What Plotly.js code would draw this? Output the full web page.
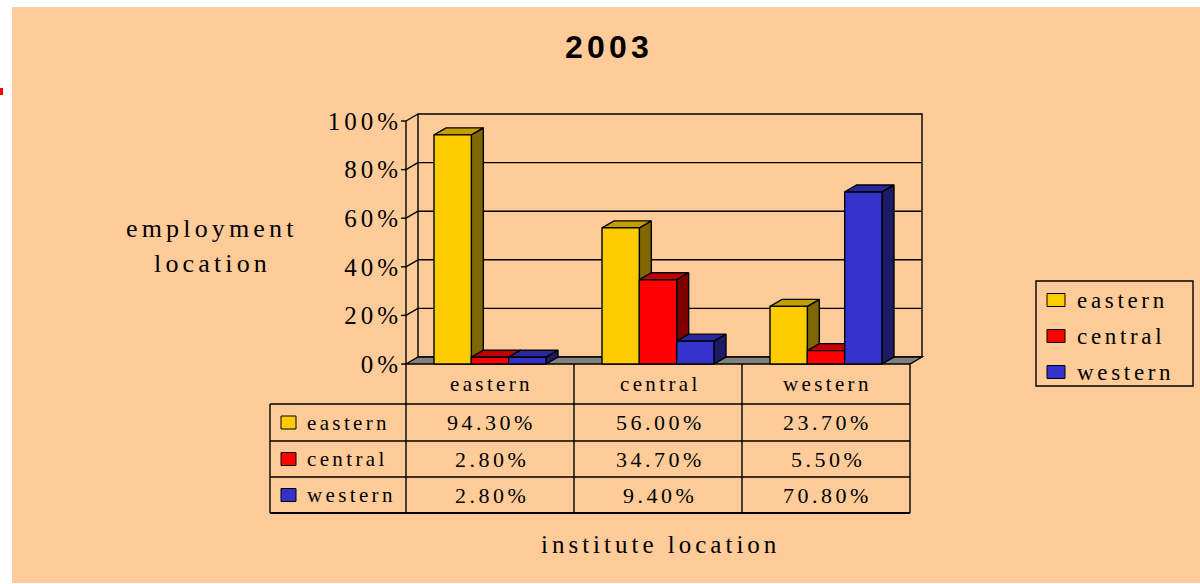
<!DOCTYPE html>
<html><head><meta charset="utf-8">
<script src="https://cdn.plot.ly/plotly-3.0.1.min.js"></script>
<style>
html,body{margin:0;padding:0;background:#fff;}
#chart{width:1200px;height:584px;}
text{letter-spacing:0.16em;}
.gtitle{letter-spacing:0.13em;}
</style></head><body><div id="chart"></div>
<script>
// ---- data ----
const categories = ['eastern', 'central', 'western'];
const seriesNames = ['eastern', 'central', 'western'];
const easternValues = [0.943, 0.560, 0.237];
const centralValues = [0.028, 0.347, 0.055];
const westernValues = [0.028, 0.094, 0.708];
const yTickValues = [0, 0.2, 0.4, 0.6, 0.8, 1.0];
const yTickLabels = ['0%', '20%', '40%', '60%', '80%', '100%'];
const titleText = '2003';
const yTitleLines = ['employment', 'location'];
const xTitleText = 'institute location';

// ---- styles ----
const frontColors = ['#FFCC00', '#FF0000', '#3333CC'];
const topColors = ['#C49E00', '#C00000', '#28289E'];
const sideColors = ['#806600', '#800000', '#1C1C66'];
const seriesValues = [easternValues, centralValues, westernValues];
const SERIF = 'Liberation Serif, Times New Roman, serif';
const SANS = 'Liberation Sans, Arial, sans-serif';

// ---- layout geometry (pixels) ----
const W = 1200, H = 584;
const FRONT_LEFT = 406, CAT_PX = 168, ZERO_Y = 364, UNIT_PX = 243;
const DEPTH_PX_X = 12, DEPTH_PX_Y = 7, PAD = 3;
const DX = DEPTH_PX_X / CAT_PX, DY = DEPTH_PX_Y / UNIT_PX;
const GROUP_FRAC = 2 / 3, BAR_W = GROUP_FRAC / seriesNames.length;
const px = x => x / W, py = y => 1 - y / H;
const nCat = categories.length;
const xMin = -0.5, xMax = nCat - 0.5;

const xDomain = [px(FRONT_LEFT - PAD), px(FRONT_LEFT + nCat * CAT_PX + DEPTH_PX_X + PAD)];
const xRange = [xMin - PAD / CAT_PX, xMax + DX + PAD / CAT_PX];
const yDomain = [py(ZERO_Y + PAD), py(ZERO_Y - UNIT_PX - DEPTH_PX_Y - PAD)];
const yRange = [-PAD / UNIT_PX, 1 + DY + PAD / UNIT_PX];

// ---- traces: 3D-looking columns ----
const traces = [];
seriesValues.forEach((vals, j) => {
  const side = {x: [], y: []}, top = {x: [], y: []}, front = {x: [], y: []};
  vals.forEach((h, i) => {
    const L = i - GROUP_FRAC / 2 + j * BAR_W, R = L + BAR_W;
    side.x.push(R, R + DX, R + DX, R, R, null);
    side.y.push(0, DY, h + DY, h, 0, null);
    top.x.push(L, R, R + DX, L + DX, L, null);
    top.y.push(h, h, h + DY, h + DY, h, null);
    front.x.push(L, R, R, L, L, null);
    front.y.push(0, 0, h, h, 0, null);
  });
  const base = {type: 'scatter', mode: 'lines', fill: 'toself', showlegend: false,
                line: {color: '#000', width: 1.4}, hoverinfo: 'skip'};
  traces.push(Object.assign({}, base, side, {fillcolor: sideColors[j]}));
  traces.push(Object.assign({}, base, top, {fillcolor: topColors[j]}));
  traces.push(Object.assign({}, base, front, {fillcolor: frontColors[j], name: seriesNames[j]}));
});

// ---- shapes ----
const shapes = [];
const line = (o) => Object.assign({type: 'line', line: {color: '#000', width: 1.4}}, o);
// white margin strips and stray mark
shapes.push({type: 'rect', xref: 'paper', yref: 'paper', x0: 0, x1: 1, y0: py(0), y1: py(7), fillcolor: '#fff', line: {width: 0}, layer: 'below'});
shapes.push({type: 'rect', xref: 'paper', yref: 'paper', x0: 0, x1: px(12), y0: 0, y1: 1, fillcolor: '#fff', line: {width: 0}, layer: 'below'});
shapes.push({type: 'rect', xref: 'paper', yref: 'paper', x0: 0, x1: 1, y0: 0, y1: py(583), fillcolor: '#fff', line: {width: 0}, layer: 'below'});
shapes.push({type: 'rect', xref: 'paper', yref: 'paper', x0: 0, x1: px(3), y0: py(95), y1: py(88), fillcolor: '#f00', line: {width: 0}, layer: 'below'});
// back wall
shapes.push({type: 'rect', xref: 'x', yref: 'y', x0: xMin + DX, x1: xMax + DX, y0: DY, y1: 1 + DY, line: {color: '#000', width: 1.4}, layer: 'below'});
yTickValues.forEach(v => {
  if (v > 0 && v < 1) shapes.push(line({xref: 'x', yref: 'y', x0: xMin + DX, x1: xMax + DX, y0: v + DY, y1: v + DY, layer: 'below'}));
  if (v > 0) shapes.push(line({xref: 'x', yref: 'y', x0: xMin, x1: xMin + DX, y0: v, y1: v + DY, layer: 'below'}));
  shapes.push(line({xref: 'paper', yref: 'y', x0: px(FRONT_LEFT - 5), x1: px(FRONT_LEFT), y0: v, y1: v, layer: 'below'}));
});
// front axis line
shapes.push(line({xref: 'paper', yref: 'y', x0: px(FRONT_LEFT), x1: px(FRONT_LEFT), y0: 0, y1: 1, layer: 'below'}));
// floor
shapes.push({type: 'path', xref: 'x', yref: 'y', layer: 'below', fillcolor: '#808080', line: {color: '#000', width: 1.4},
  path: `M${xMin},0 L${xMax},0 L${xMax + DX},${DY} L${xMin + DX},${DY} Z`});

// ---- data table ----
const TABLE_LEFT = 270, HEADER_BOTTOM = 404;
const ROW_BOTTOMS = [441, 477, 513];
const colX = i => FRONT_LEFT + i * CAT_PX;
const tableRight = colX(nCat);
for (let i = 0; i <= nCat; i++) {
  shapes.push(line({xref: 'paper', yref: 'paper', x0: px(colX(i)), x1: px(colX(i)), y0: py(ZERO_Y), y1: py(ROW_BOTTOMS[2])}));
}
shapes.push(line({xref: 'paper', yref: 'paper', x0: px(TABLE_LEFT), x1: px(TABLE_LEFT), y0: py(HEADER_BOTTOM), y1: py(ROW_BOTTOMS[2])}));
[HEADER_BOTTOM].concat(ROW_BOTTOMS).forEach((yy, k) => {
  shapes.push(line({xref: 'paper', yref: 'paper', x0: px(TABLE_LEFT), x1: px(tableRight), y0: py(yy), y1: py(yy),
    line: {color: '#000', width: k === 3 ? 2 : 1.4}}));
});

// ---- annotations ----
const annotations = [];
const ann = (text, x, y, size, xanchor) => annotations.push({text, x: px(x), y: py(y), xref: 'paper', yref: 'paper',
  showarrow: false, xanchor: xanchor || 'center', yanchor: 'middle', font: {family: SERIF, size, color: '#000'}});
ann(yTitleLines[0], 212, 228, 26);
ann(yTitleLines[1], 212, 263, 26);
ann(xTitleText, 660, 544, 25);
categories.forEach((c, i) => ann(c, colX(i) + CAT_PX / 2 + 2, 384, 21));
const rowCenters = [HEADER_BOTTOM].concat(ROW_BOTTOMS).slice(0, 3).map((t, k) => (t + ROW_BOTTOMS[k]) / 2);
seriesNames.forEach((s, j) => {
  const cy = rowCenters[j];
  shapes.push({type: 'rect', xref: 'paper', yref: 'paper', x0: px(281), x1: px(296), y0: py(cy + 6.5), y1: py(cy - 6.5),
    fillcolor: frontColors[j], line: {color: '#000', width: 1}});
  ann(s, 305, cy, 21, 'left');
  seriesValues[j].forEach((v, i) => ann((v * 100).toFixed(2) + '%', colX(i) + CAT_PX / 2 + 2, cy, 22));
});

// ---- legend (manual, Excel style) ----
shapes.push({type: 'rect', xref: 'paper', yref: 'paper', x0: px(1036), x1: px(1193), y0: py(386), y1: py(281),
  line: {color: '#000', width: 1.4}, fillcolor: 'rgba(0,0,0,0)'});
const legendCenters = [300, 336, 372];
seriesNames.forEach((s, j) => {
  const cy = legendCenters[j];
  shapes.push({type: 'rect', xref: 'paper', yref: 'paper', x0: px(1047), x1: px(1065), y0: py(cy + 6.5), y1: py(cy - 6.5),
    fillcolor: frontColors[j], line: {color: '#000', width: 1}});
  ann(s, 1075, cy, 23, 'left');
});

const layout = {
  width: W, height: H,
  margin: {l: 0, r: 0, t: 0, b: 0},
  paper_bgcolor: '#FFCC99', plot_bgcolor: 'rgba(0,0,0,0)',
  showlegend: false,
  title: {text: '<b>' + titleText + '</b>', font: {family: SANS, size: 32, color: '#000'},
          x: px(609), xanchor: 'center', y: py(47), yanchor: 'middle', xref: 'container', yref: 'container'},
  xaxis: {domain: xDomain, range: xRange, visible: false, fixedrange: true},
  yaxis: {domain: yDomain, range: yRange, tickvals: yTickValues, ticktext: yTickLabels,
          showgrid: false, zeroline: false, showline: false, ticks: '', fixedrange: true,
          tickfont: {family: SERIF, size: 25, color: '#000'}},
  shapes, annotations
};
Plotly.newPlot('chart', traces, layout, {displayModeBar: false, staticPlot: true});
</script></body></html>
